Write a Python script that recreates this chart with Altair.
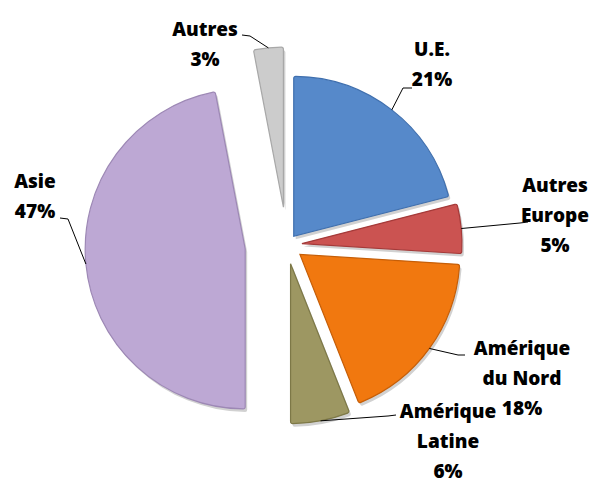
import altair as alt
import pandas as pd

# ---- data ----
regions = ["U.E.", "Autres Europe", "Amérique du Nord", "Amérique Latine", "Asie", "Autres"]
shares = [21, 5, 18, 6, 47, 3]
label_names = ["U.E.", "Autres\nEurope", "Amérique\ndu Nord", "Amérique\nLatine", "Asie", "Autres"]

# ---- style / layout ----
colors = ["#5689CA", "#CB5351", "#F1780F", "#9D9762", "#BDA8D4", "#CCCCCC"]
strokes = ["#3F6FAE", "#A53A39", "#C65E07", "#7D7847", "#9D88B5", "#A8A8A8"]
explode = [11, 15, 16, 19, 42, 38]          # px each slice is pulled out
label_x = [424, 547, 514, 440, 27, 197]      # label first-line centres (view px)
label_y = [42, 178, 341, 404, 174, 22]
elbow_x = [395, 512, 450, 380, 60, 242]
elbow_y = [80, 215, 347, 408, 211, 28]
end_x = [404, 520, 457, 388, 52, 234]
end_y = [80, 214, 347, 407, 210, 27]

CX, CY, R = 279, 237, 160
W, H = 591, 475
FONT = "Open Sans"

df = pd.DataFrame({
    "region": regions,
    "share": shares,
    "label": [f"{n}\n{s}%" for n, s in zip(label_names, shares)],
    "order": list(range(len(regions))),
    "explode": explode,
    "lx": label_x, "ly": label_y,
    "bx": elbow_x, "by": elbow_y,
    "ex": end_x, "ey": end_y,
})

base = alt.Chart(df).transform_window(
    cum="sum(share)", sort=[alt.SortField("order")], frame=[None, 0]
).transform_joinaggregate(
    total="sum(share)"
).transform_calculate(
    start="datum.cum - datum.share",
    end="datum.cum",
    mid="(datum.cum - datum.share / 2) / datum.total * 2 * PI",
).transform_calculate(
    ax=f"{CX} + datum.explode * sin(datum.mid)",
    ay=f"{CY} - datum.explode * cos(datum.mid)",
    px=f"{CX} + (datum.explode + {R}) * sin(datum.mid)",
    py=f"{CY} - (datum.explode + {R}) * cos(datum.mid)",
).transform_calculate(
    sx="datum.ax + 2",
    sy="datum.ay + 3",
)

theta = alt.Theta("start:Q", scale=alt.Scale(domain=[0, 100]), stack=None)
theta2 = alt.Theta2("end:Q")

shadow = base.mark_arc(radius=R, color="#000000", opacity=0.18, cornerRadius=2).encode(
    x=alt.X("sx:Q", scale=None, axis=None),
    y=alt.Y("sy:Q", scale=None, axis=None),
    theta=theta, theta2=theta2,
)

slices = base.mark_arc(radius=R, strokeWidth=1.2, cornerRadius=2).encode(
    x=alt.X("ax:Q", scale=None, axis=None),
    y=alt.Y("ay:Q", scale=None, axis=None),
    theta=theta, theta2=theta2,
    fill=alt.Fill("region:N", scale=alt.Scale(domain=regions, range=colors), legend=None),
    stroke=alt.Stroke("region:N", scale=alt.Scale(domain=regions, range=strokes), legend=None),
)

lead1 = base.mark_rule(color="#000000", strokeWidth=1).encode(
    x=alt.X("px:Q", scale=None, axis=None), y=alt.Y("py:Q", scale=None, axis=None),
    x2="bx:Q", y2="by:Q",
)
lead2 = base.mark_rule(color="#000000", strokeWidth=1).encode(
    x=alt.X("bx:Q", scale=None, axis=None), y=alt.Y("by:Q", scale=None, axis=None),
    x2="ex:Q", y2="ey:Q",
)

labels = base.mark_text(
    font=FONT, fontSize=19, fontWeight=800, color="#000000",
    align="center", baseline="middle", lineBreak="\n", lineHeight=30,
).encode(
    x=alt.X("lx:Q", scale=None, axis=None),
    y=alt.Y("ly:Q", scale=None, axis=None),
    text="label:N",
)

chart = alt.layer(shadow, slices, lead1, lead2, labels).properties(
    width=W, height=H,
    autosize=alt.AutoSizeParams(type="none"),
    padding=0,
).configure(
    background="#FFFFFF",
    view=alt.ViewConfig(stroke=None),
)

chart.save("out.html", embed_options={"renderer": "svg", "actions": False})
